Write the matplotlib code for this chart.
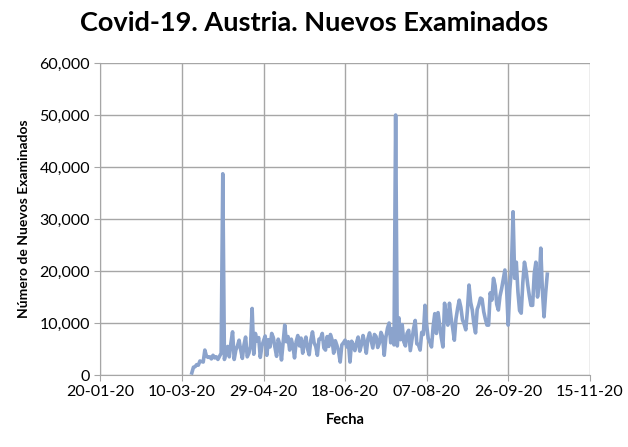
import matplotlib
matplotlib.use("Agg")
import matplotlib.pyplot as plt
import matplotlib.dates as mdates
from matplotlib.ticker import FuncFormatter
import pandas as pd

# daily new tests, starting 16-03-2020
start_date = "2020-03-16"
nuevos = [
    400, 1500, 1600, 2000, 1900, 2700, 2600,
    2500, 4800, 3600, 3400, 3500, 3100, 3800,
    3300, 3500, 3000, 3600, 4200, 38700, 3000,
    4500, 5500, 3500, 6200, 8300, 3000, 4800,
    5600, 6700, 4800, 3200, 5800, 7300, 3500,
    4200, 5500, 12800, 4000, 8000, 6500, 7200,
    3400, 5600, 6600, 7500, 3800, 6800, 5400,
    8000, 7200, 5300, 3600, 6900, 5800, 2900,
    6200, 9600, 6400, 7400, 4800, 6900, 5600,
    3300, 6400, 7600, 5600, 7100, 4200, 6200,
    7300, 5000, 3900, 6700, 8300, 6200, 5500,
    3800, 6900, 7000, 8000, 5200, 4800, 7400,
    5500, 7800, 6800, 4200, 6600, 5700, 4500,
    2500, 5800, 6200, 6700, 5400, 6400, 2500,
    6500, 5800, 4700, 6200, 7300, 4600, 5800,
    7600, 6200, 4200, 7000, 8100, 6600, 5200,
    7800, 7400, 5300, 6100, 8200, 7400, 3800,
    7200, 9000, 10000, 6200, 8900, 5800, 50000,
    5600, 11000, 6800, 9700, 6400, 5600, 8000,
    8600, 4700, 6800, 8900, 10500, 6000, 5800,
    4800, 8200, 7800, 13400, 9600, 7000, 6300,
    5400, 9300, 11800, 8000, 12000, 9600, 7200,
    5400, 13800, 11500, 9600, 13800, 11000, 9000,
    6700, 10800, 12800, 14400, 13000, 10600, 9800,
    8700, 12400, 17300, 14000, 12500, 9800, 8100,
    12600, 13500, 14800, 14600, 12200, 10800, 9600,
    9600, 15800, 14400, 18600, 17200, 13600, 12500,
    15200, 16600, 18400, 20200, 17000, 9600, 16400,
    20400, 31400, 18600, 21700, 16000, 12400, 11900,
    17800, 21700, 20000, 17400, 15200, 13400, 13400,
    19500, 21700, 15000, 17600, 24400, 16200, 11200,
    15800, 19400,
]
fechas = pd.date_range(start_date, periods=len(nuevos), freq="D")

x_ticks = pd.date_range("2020-01-20", "2020-11-15", freq="50D")
y_ticks = [0, 10000, 20000, 30000, 40000, 50000, 60000]

plt.rcParams['font.family'] = ['Lato', 'DejaVu Sans']

fig = plt.figure(figsize=(6.28, 4.47), dpi=100)
ax = fig.add_axes([0.160, 0.161, 0.779, 0.698])

ax.plot(fechas, nuevos, color='#8ba3cc', linewidth=2.6, solid_joinstyle='round')

ax.set_xlim(x_ticks[0], x_ticks[-1])
ax.set_ylim(0, 60000)
ax.set_xticks(x_ticks)
ax.set_yticks(y_ticks)
ax.xaxis.set_major_formatter(mdates.DateFormatter('%d-%m-%y'))
ax.yaxis.set_major_formatter(FuncFormatter(lambda v, p: f"{int(v):,}"))

ax.grid(True, color='#a6a6a6', linewidth=1.0)
ax.set_axisbelow(True)
for s in ['top', 'right']:
    ax.spines[s].set_visible(False)
for s in ['left', 'bottom']:
    ax.spines[s].set_color('#a6a6a6')
ax.tick_params(axis='both', colors='#a6a6a6', labelcolor='black', labelsize=11.5, length=4)

ax.set_xlabel('Fecha', fontsize=10.5, fontweight='bold', labelpad=10)
ax.set_ylabel('Número de Nuevos Examinados', fontsize=10, fontweight='bold', labelpad=7)
fig.suptitle('Covid-19. Austria. Nuevos Examinados', fontsize=19.5, fontweight='bold', y=0.975)

fig.savefig('out.png', dpi=100)
